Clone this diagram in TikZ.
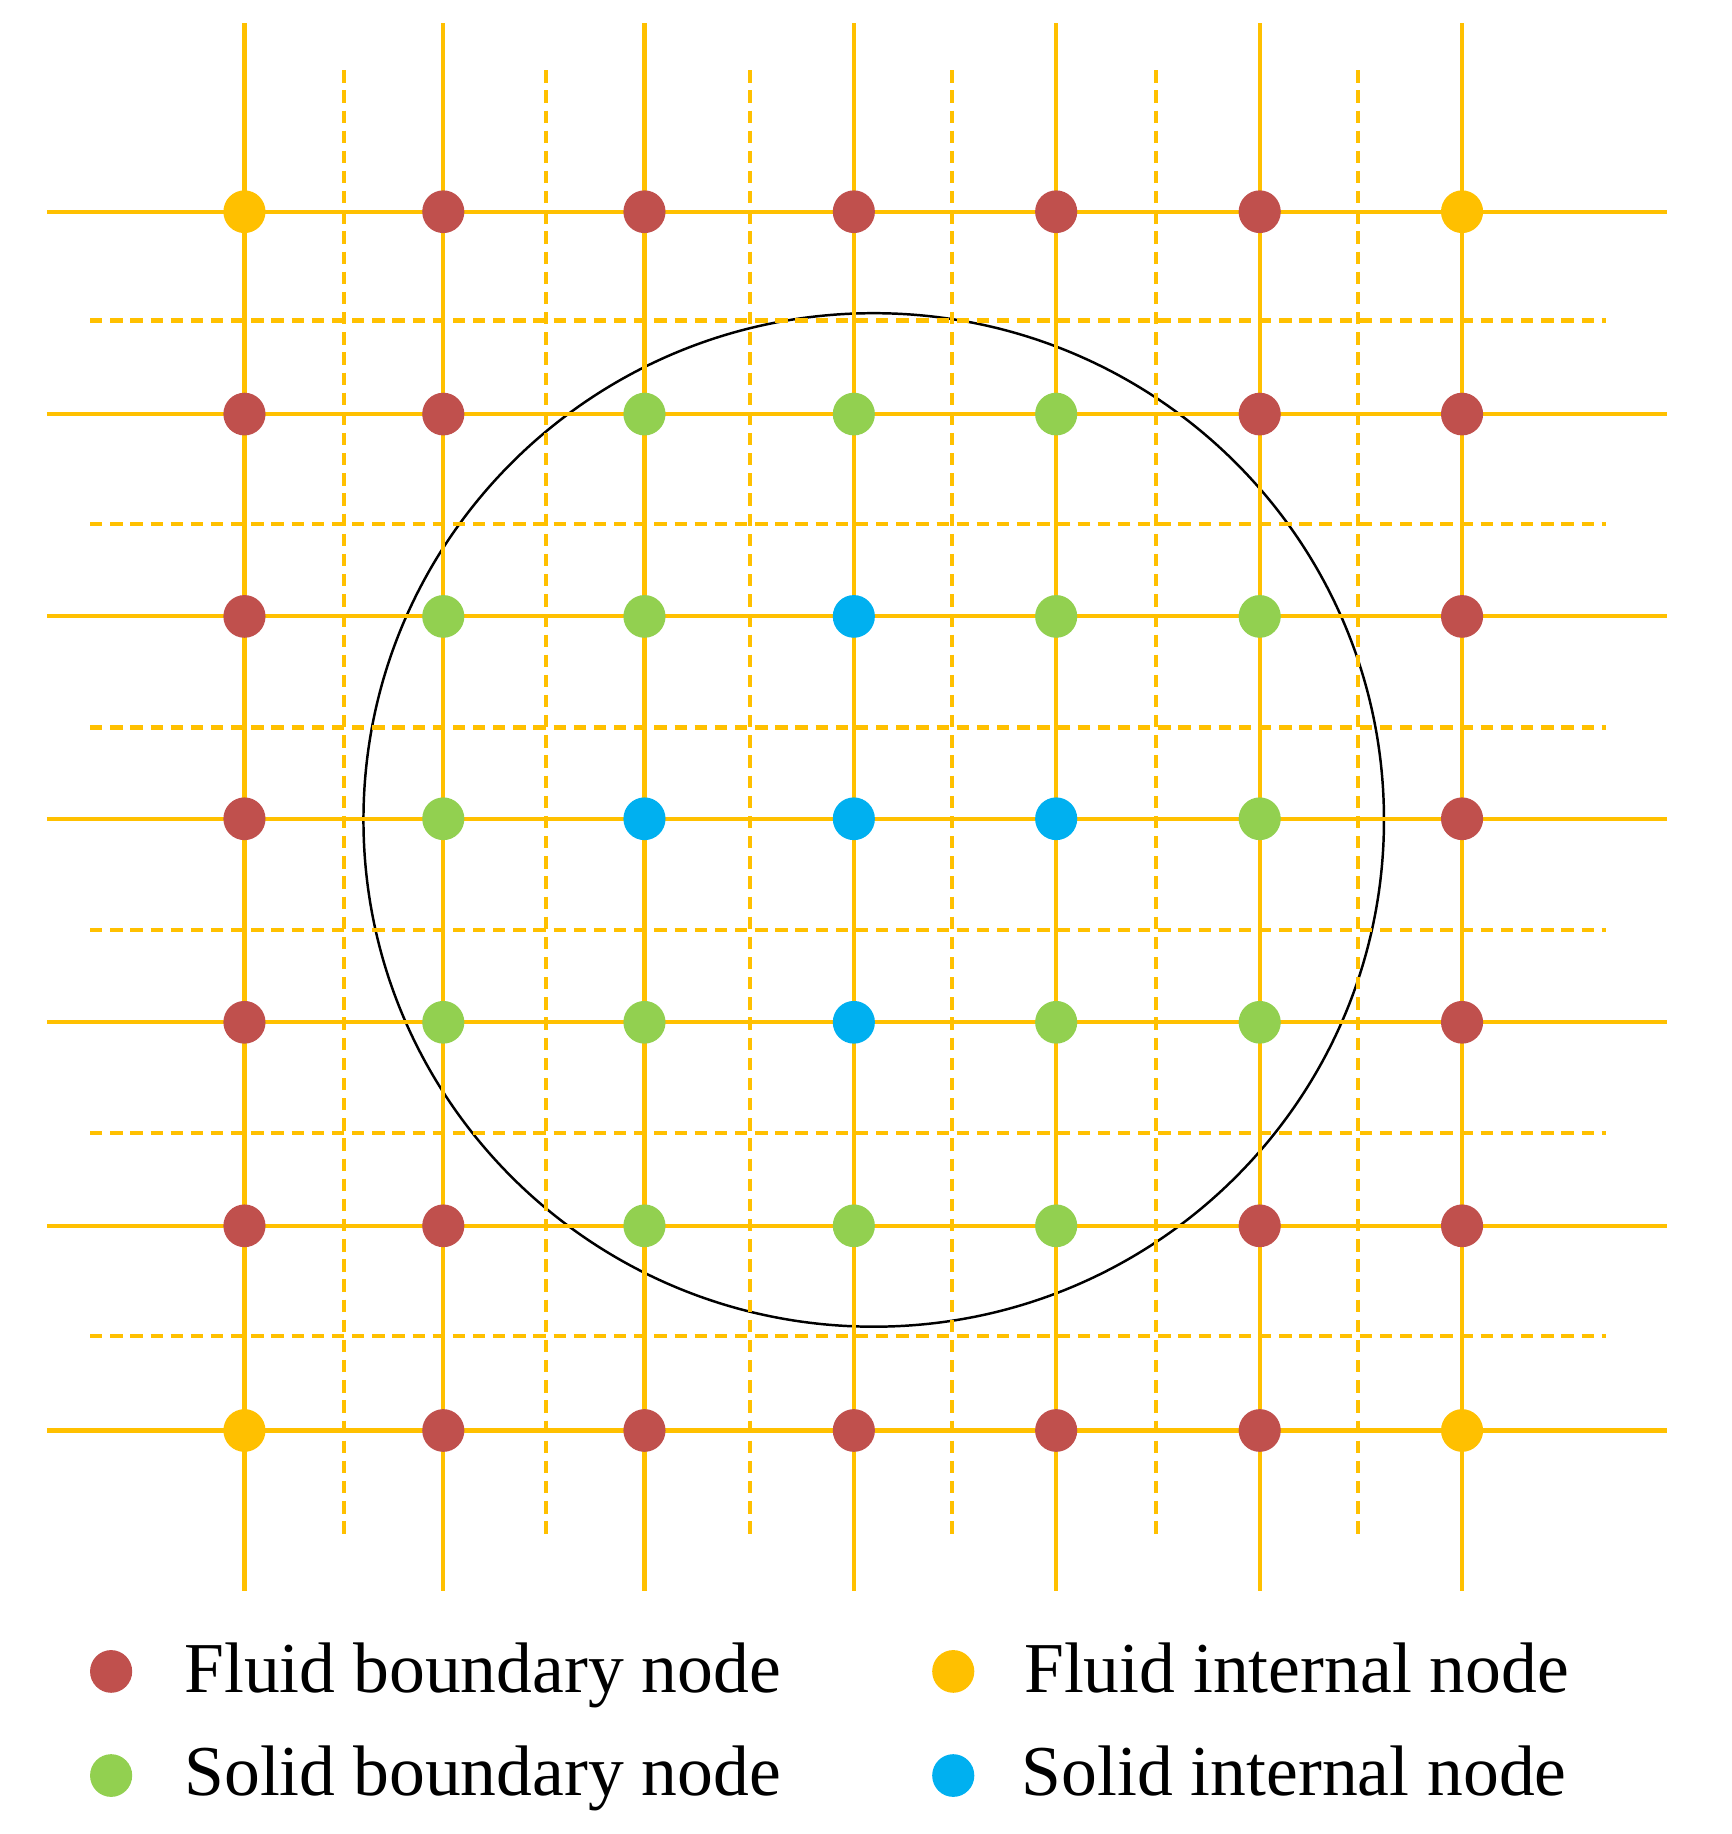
\documentclass[tikz,border=0pt]{standalone}
\usepackage{fontspec}
\setmainfont{Liberation Serif}
\usetikzlibrary{shapes.geometric}
\definecolor{gold}{HTML}{FFC000}
\definecolor{fbred}{HTML}{C0504D}
\definecolor{sbgreen}{HTML}{92D050}
\definecolor{siblue}{HTML}{00B0F0}
\tikzset{
  solidline/.style={draw=gold, line width=1pt},
  dashline/.style={draw=gold, line width=1pt, dash pattern=on 3pt off 1.9pt},
  dotnode/.style={ellipse, inner sep=0pt, minimum width=0.36cm, minimum height=0.365cm},
  FB/.style={dotnode, fill=fbred},
  FI/.style={dotnode, fill=gold},
  SB/.style={dotnode, fill=sbgreen},
  SI/.style={dotnode, fill=siblue},
  legtext/.style={anchor=base west, inner sep=0pt, font=\fontsize{17.4}{20}\selectfont},
  boundary/.style={draw=black, line width=0.6pt, ellipse, inner sep=0pt, minimum width=8.72cm, minimum height=8.66cm}
}
\begin{document}
\begin{tikzpicture}[x=0.01cm,y=-0.01cm]
\useasboundingbox (0,0) rectangle (1480,1568);
% circle
\node[boundary] (circ) at (747,701) {};
% dashed grid
\foreach \x in {294,467,641,814,988,1161}
  \draw[dashline] (\x,60) -- (\x,1316);
\foreach \y in {274,448,622,795,969,1142}
  \draw[dashline] (77,\y) -- (1373,\y);
% solid grid
\foreach \x in {209,379,551,730,903,1077,1250}
  \draw[solidline] (\x,20) -- (\x,1360);
\foreach \y in {181,354,527,700,874,1048,1223}
  \draw[solidline] (40,\y) -- (1425,\y);
% nodes
\foreach \t [count=\c] in {FI,FB,FB,FB,FB,FB,FI}
  {\pgfmathsetmacro\xx{{209,379,551,730,903,1077,1250}[\c-1]}
   \node[\t] (n1-\c) at (\xx,181) {};}
\foreach \t [count=\c] in {FB,FB,SB,SB,SB,FB,FB}
  {\pgfmathsetmacro\xx{{209,379,551,730,903,1077,1250}[\c-1]}
   \node[\t] (n2-\c) at (\xx,354) {};}
\foreach \t [count=\c] in {FB,SB,SB,SI,SB,SB,FB}
  {\pgfmathsetmacro\xx{{209,379,551,730,903,1077,1250}[\c-1]}
   \node[\t] (n3-\c) at (\xx,527) {};}
\foreach \t [count=\c] in {FB,SB,SI,SI,SI,SB,FB}
  {\pgfmathsetmacro\xx{{209,379,551,730,903,1077,1250}[\c-1]}
   \node[\t] (n4-\c) at (\xx,700) {};}
\foreach \t [count=\c] in {FB,SB,SB,SI,SB,SB,FB}
  {\pgfmathsetmacro\xx{{209,379,551,730,903,1077,1250}[\c-1]}
   \node[\t] (n5-\c) at (\xx,874) {};}
\foreach \t [count=\c] in {FB,FB,SB,SB,SB,FB,FB}
  {\pgfmathsetmacro\xx{{209,379,551,730,903,1077,1250}[\c-1]}
   \node[\t] (n6-\c) at (\xx,1048) {};}
\foreach \t [count=\c] in {FI,FB,FB,FB,FB,FB,FI}
  {\pgfmathsetmacro\xx{{209,379,551,730,903,1077,1250}[\c-1]}
   \node[\t] (n7-\c) at (\xx,1223) {};}
% legend
\node[FB] (lg1) at (95,1429) {};
\node[legtext] (lt1) at (157,1447) {Fluid boundary node};
\node[SB] (lg2) at (95,1518) {};
\node[legtext] (lt2) at (157,1535) {Solid boundary node};
\node[FI] (lg3) at (815,1429) {};
\node[legtext] (lt3) at (875,1447) {Fluid internal node};
\node[SI] (lg4) at (815,1518) {};
\node[legtext] (lt4) at (873,1535) {Solid internal node};
\end{tikzpicture}
\end{document}
